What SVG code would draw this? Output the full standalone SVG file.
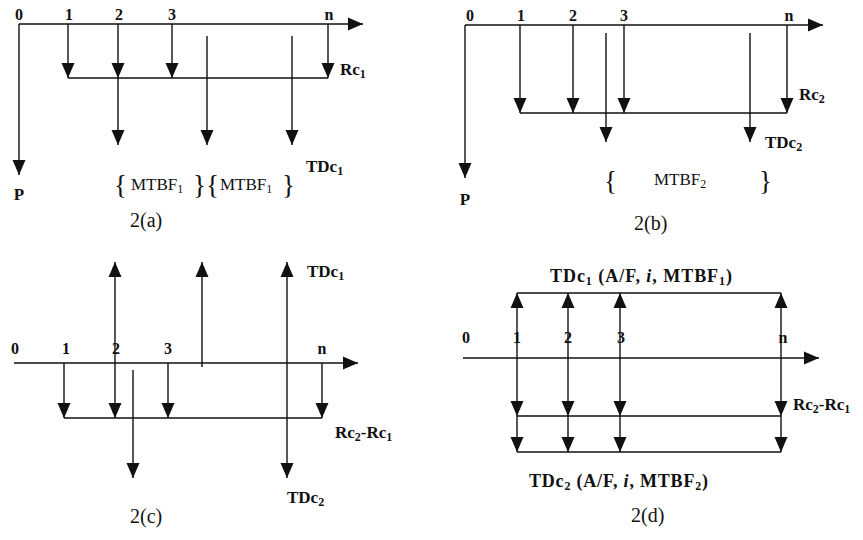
<svg xmlns="http://www.w3.org/2000/svg" width="863" height="540" viewBox="0 0 863 540">
<style>
.l{stroke:#111;stroke-width:1.4;fill:none}
.a{stroke:#111;stroke-width:1.4;fill:none;marker-end:url(#ah)}
.d{stroke:#111;stroke-width:1.4;fill:none;marker-end:url(#ah);marker-start:url(#ah)}
text{font-family:"Liberation Serif","Times New Roman",serif;fill:#111}
.b{font-weight:bold;font-size:17px}
.bb{font-weight:bold;font-size:18px}
.n{font-weight:bold;font-size:16px;text-anchor:middle}
.c{font-size:20px}
.m{font-size:17px}
.br{font-size:27px}
.s{font-size:12px}
</style>
<defs>
<marker id="ah" markerUnits="userSpaceOnUse" markerWidth="16" markerHeight="14" refX="15" refY="7" orient="auto-start-reverse" viewBox="0 0 16 14">
<path d="M0,0.5 L15,7 L0,13.5 z" fill="#111"/>
</marker>
</defs>

<g id="connectors">
<!-- panel a -->
<line class="a" x1="19" y1="24" x2="363" y2="24"/>
<line class="a" x1="68" y1="24" x2="68" y2="78"/>
<line class="a" x1="118" y1="24" x2="118" y2="78"/>
<line class="a" x1="172" y1="24" x2="172" y2="78"/>
<line class="a" x1="328" y1="24" x2="328" y2="78"/>
<line class="l" x1="68" y1="78" x2="328" y2="78"/>
<line class="a" x1="118" y1="78" x2="118" y2="145"/>
<line class="a" x1="207" y1="36" x2="207" y2="145"/>
<line class="a" x1="292" y1="36" x2="292" y2="145"/>
<line class="a" x1="19" y1="24" x2="19" y2="175"/>
<!-- panel b -->
<line class="a" x1="465" y1="25" x2="823" y2="25"/>
<line class="a" x1="520" y1="25" x2="520" y2="113"/>
<line class="a" x1="573" y1="25" x2="573" y2="113"/>
<line class="a" x1="624" y1="25" x2="624" y2="113"/>
<line class="a" x1="787" y1="25" x2="787" y2="113"/>
<line class="l" x1="520" y1="113" x2="787" y2="113"/>
<line class="a" x1="606" y1="33" x2="606" y2="142"/>
<line class="a" x1="750" y1="33" x2="750" y2="142"/>
<line class="a" x1="465" y1="25" x2="465" y2="178"/>
<!-- panel c -->
<line class="a" x1="14" y1="363" x2="358" y2="363"/>
<line class="a" x1="64" y1="363" x2="64" y2="418"/>
<line class="a" x1="168" y1="363" x2="168" y2="418"/>
<line class="a" x1="322" y1="363" x2="322" y2="418"/>
<line class="d" x1="115" y1="418" x2="115" y2="262"/>
<line class="l" x1="64" y1="418" x2="322" y2="418"/>
<line class="a" x1="202" y1="367" x2="202" y2="262"/>
<line class="d" x1="287" y1="478" x2="287" y2="262"/>
<line class="a" x1="133" y1="370" x2="133" y2="478"/>
<!-- panel d -->
<line class="a" x1="463" y1="358" x2="819" y2="358"/>
<line class="d" x1="517" y1="416" x2="517" y2="293"/>
<line class="d" x1="568" y1="416" x2="568" y2="293"/>
<line class="d" x1="620" y1="416" x2="620" y2="293"/>
<line class="d" x1="781" y1="416" x2="781" y2="293"/>
<line class="a" x1="517" y1="416" x2="517" y2="452"/>
<line class="a" x1="568" y1="416" x2="568" y2="452"/>
<line class="a" x1="620" y1="416" x2="620" y2="452"/>
<line class="a" x1="781" y1="416" x2="781" y2="452"/>
<line class="l" x1="517" y1="293" x2="781" y2="293"/>
<line class="l" x1="517" y1="416" x2="781" y2="416"/>
<line class="l" x1="517" y1="452" x2="781" y2="452"/>
</g>

<g id="panel-a">
<text class="n" x="19" y="20">0</text>
<text class="n" x="69" y="20">1</text>
<text class="n" x="119" y="20">2</text>
<text class="n" x="172" y="20">3</text>
<text class="n" x="329" y="20">n</text>
<text class="b" x="19" y="200" text-anchor="middle">P</text>
<text class="b" x="340" y="75">Rc<tspan class="s" dy="3">1</tspan></text>
<text class="b" x="306" y="172">TDc<tspan class="s" dy="3">1</tspan></text>
<text class="br" x="114" y="194">{</text>
<text class="m" x="131" y="190">MTBF<tspan class="s" dy="3">1</tspan></text>
<text class="br" x="193" y="194">}</text>
<text class="br" x="206" y="194">{</text>
<text class="m" x="220" y="190">MTBF<tspan class="s" dy="3">1</tspan></text>
<text class="br" x="282" y="194">}</text>
<text class="c" x="130" y="227">2(a)</text>
</g>

<g id="panel-b">
<text class="n" x="470" y="21">0</text>
<text class="n" x="521" y="21">1</text>
<text class="n" x="573" y="21">2</text>
<text class="n" x="624" y="21">3</text>
<text class="n" x="789" y="21">n</text>
<text class="b" x="465" y="205" text-anchor="middle">P</text>
<text class="b" x="799" y="100">Rc<tspan class="s" dy="3">2</tspan></text>
<text class="b" x="765" y="148">TDc<tspan class="s" dy="3">2</tspan></text>
<text class="br" x="604" y="190">{</text>
<text class="m" x="654" y="185">MTBF<tspan class="s" dy="3">2</tspan></text>
<text class="br" x="759" y="190">}</text>
<text class="c" x="634" y="230">2(b)</text>
</g>

<g id="panel-c">
<text class="n" x="15" y="354">0</text>
<text class="n" x="66" y="354">1</text>
<text class="n" x="116" y="354">2</text>
<text class="n" x="168" y="354">3</text>
<text class="n" x="322" y="354">n</text>
<text class="b" x="307" y="277">TDc<tspan class="s" dy="3">1</tspan></text>
<text class="b" x="335" y="438">Rc<tspan class="s" dy="3">2</tspan><tspan dy="-3">-Rc</tspan><tspan class="s" dy="3">1</tspan></text>
<text class="b" x="287" y="503">TDc<tspan class="s" dy="3">2</tspan></text>
<text class="c" x="130" y="523">2(c)</text>
</g>

<g id="panel-d">
<text class="n" x="466" y="343">0</text>
<text class="n" x="517" y="343">1</text>
<text class="n" x="568" y="343">2</text>
<text class="n" x="621" y="343">3</text>
<text class="n" x="783" y="343">n</text>
<text class="bb" x="550" y="282" textLength="182" lengthAdjust="spacing">TDc<tspan class="s" dy="3">1</tspan><tspan dy="-3"> (A/F, </tspan><tspan font-style="italic">i</tspan><tspan>, MTBF</tspan><tspan class="s" dy="3">1</tspan><tspan dy="-3">)</tspan></text>
<text class="b" x="793" y="410">Rc<tspan class="s" dy="3">2</tspan><tspan dy="-3">-Rc</tspan><tspan class="s" dy="3">1</tspan></text>
<text class="bb" x="529" y="487" textLength="179" lengthAdjust="spacing">TDc<tspan class="s" dy="3">2</tspan><tspan dy="-3"> (A/F, </tspan><tspan font-style="italic">i</tspan><tspan>, MTBF</tspan><tspan class="s" dy="3">2</tspan><tspan dy="-3">)</tspan></text>
<text class="c" x="631" y="522">2(d)</text>
</g>
</svg>
